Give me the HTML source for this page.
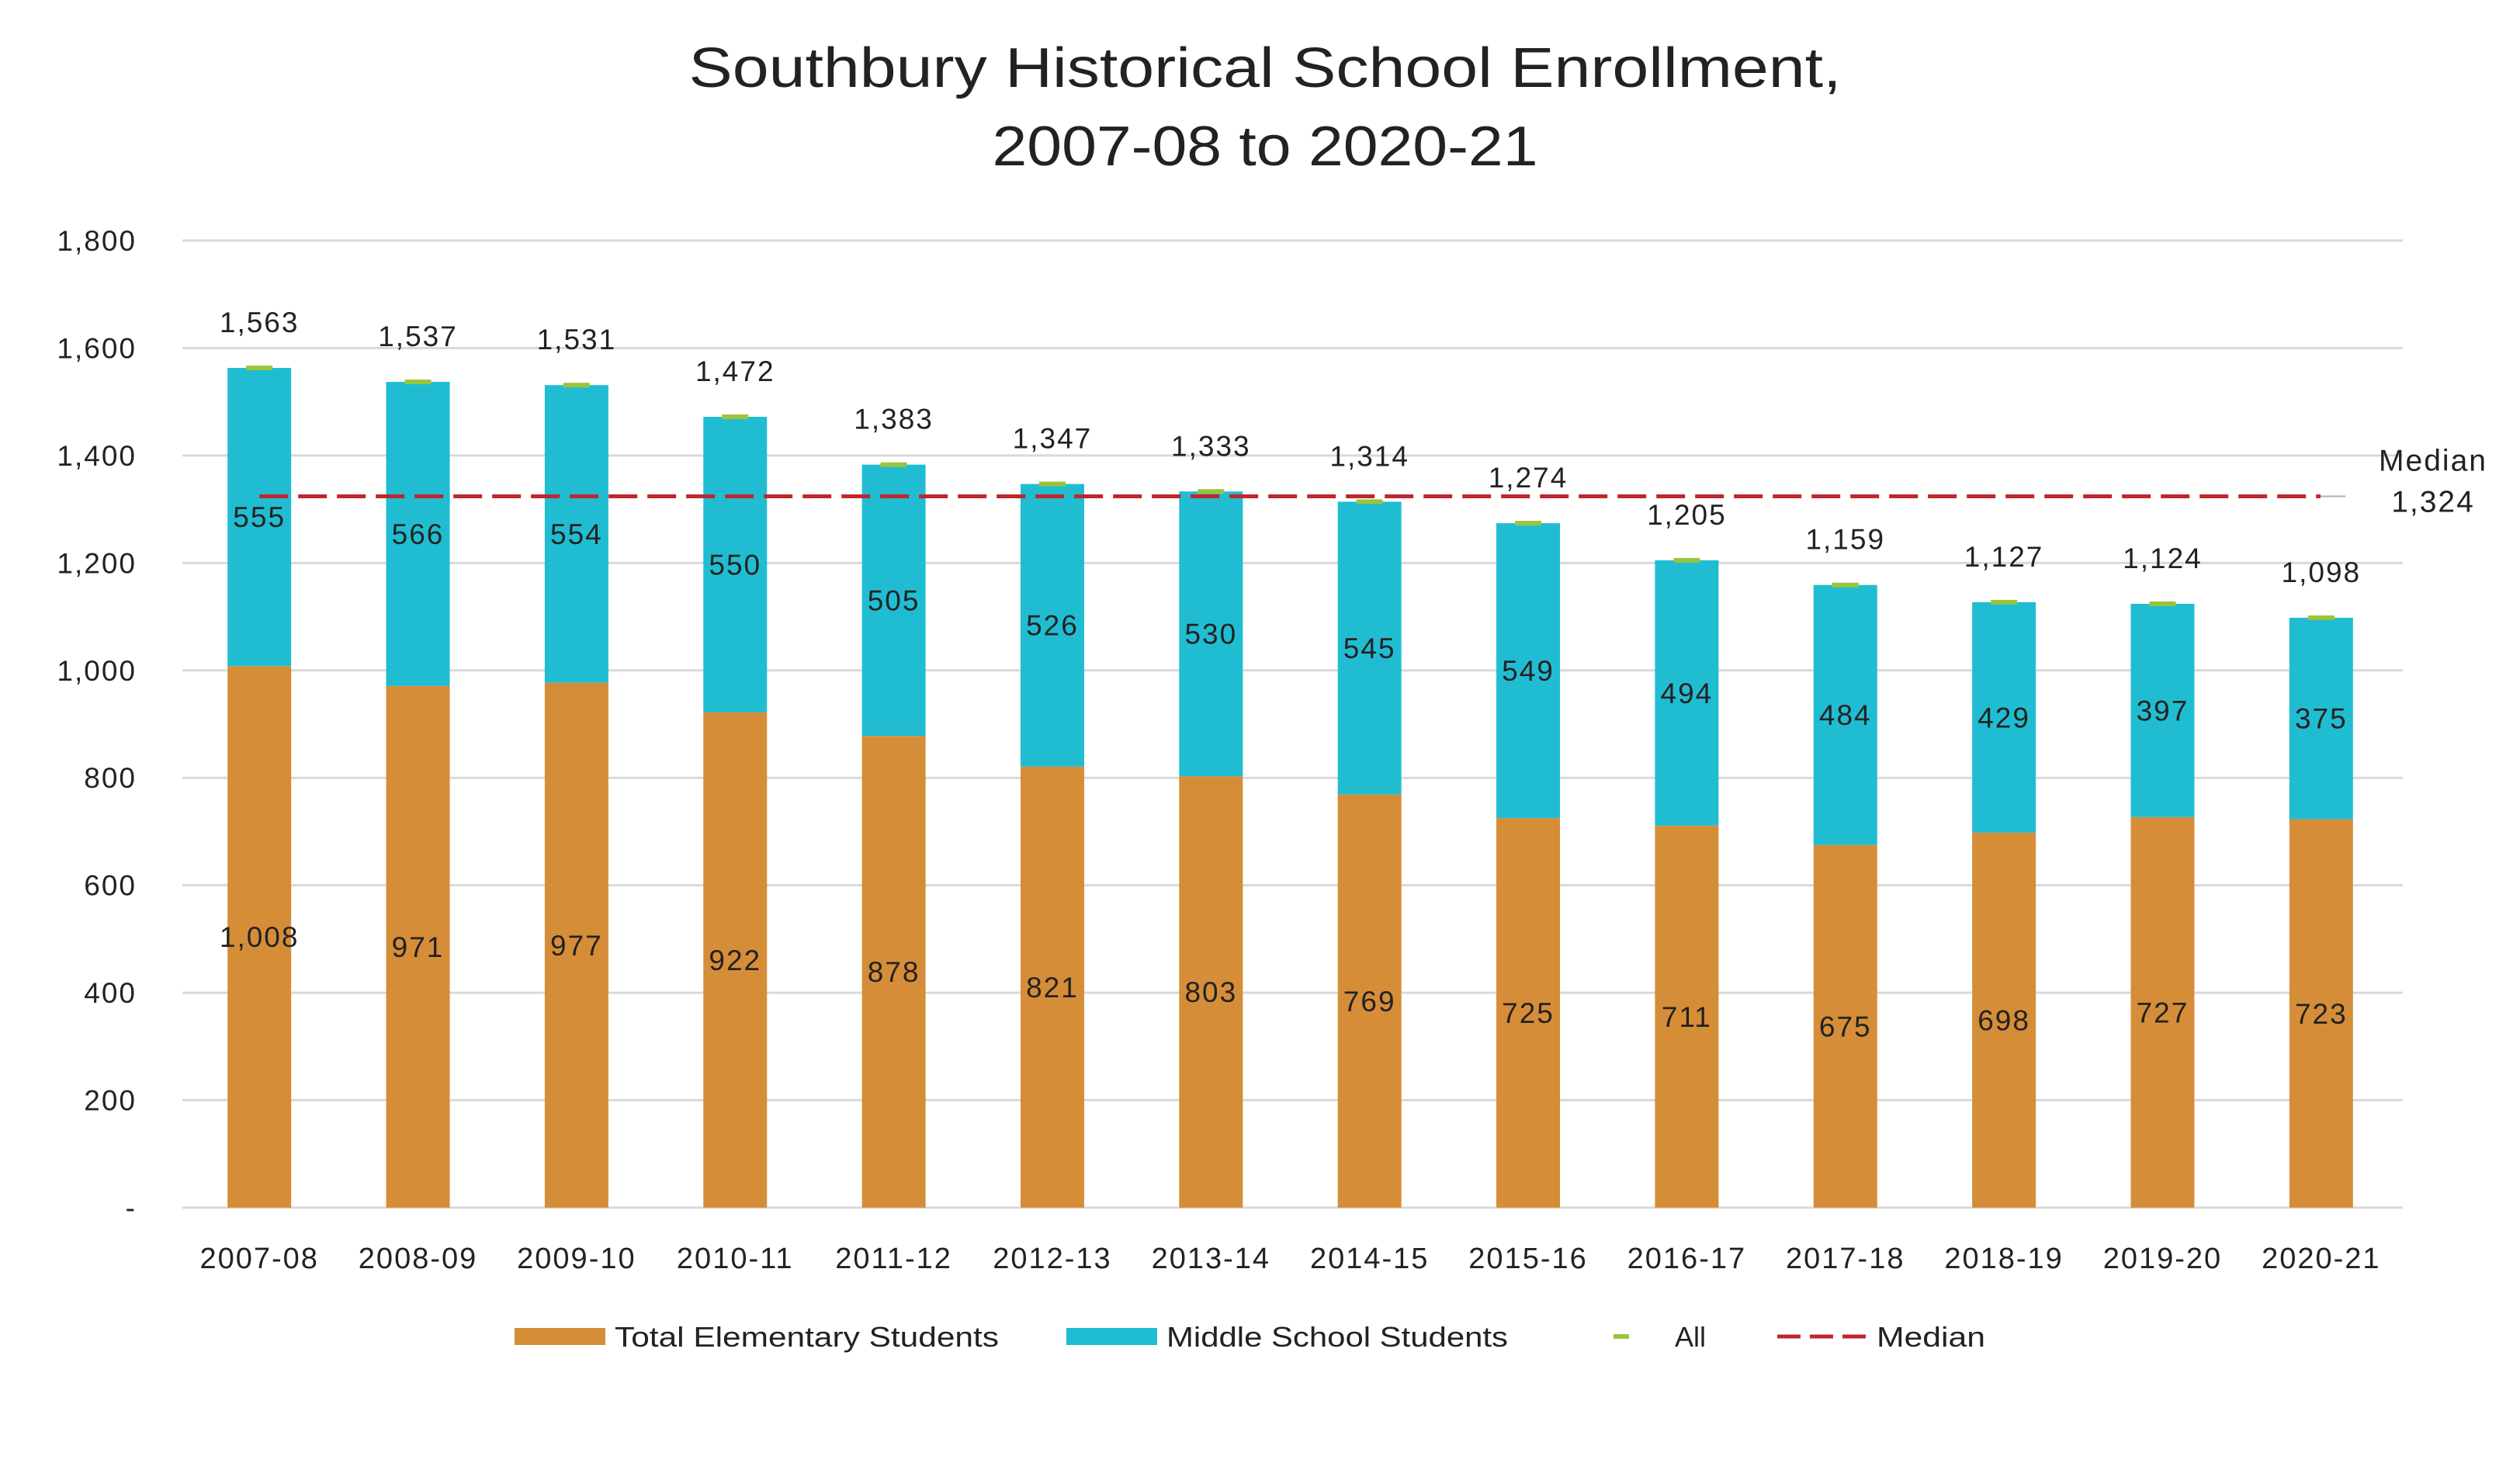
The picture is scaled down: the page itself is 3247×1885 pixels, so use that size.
<!DOCTYPE html>
<html><head><meta charset="utf-8"><style>
html,body{margin:0;padding:0;background:#fff;}
svg{display:block;font-family:"Liberation Sans",sans-serif;}
</style></head><body>
<svg id="chart" width="3247" height="1885" viewBox="0 0 3247 1885" xmlns="http://www.w3.org/2000/svg">
<text x="1630" y="112" font-size="72" text-anchor="middle" fill="#222" textLength="1485" lengthAdjust="spacingAndGlyphs">Southbury Historical School Enrollment,</text>
<text x="1630" y="213" font-size="72" text-anchor="middle" fill="#222" textLength="703" lengthAdjust="spacingAndGlyphs">2007-08 to 2020-21</text>
<g id="grid"></g><g id="bars"></g><g id="labels"></g>
<g>
<rect x="663" y="1711" width="117" height="22" fill="#d68d38"/>
<text x="792" y="1735" font-size="36" fill="#222" textLength="495" lengthAdjust="spacingAndGlyphs">Total Elementary Students</text>
<rect x="1374" y="1711" width="117" height="22" fill="#20bdd2"/>
<text x="1503" y="1735" font-size="36" fill="#222" textLength="440" lengthAdjust="spacingAndGlyphs">Middle School Students</text>
<rect x="2079" y="1719" width="20" height="6" fill="#9bc43a"/>
<text x="2158" y="1735" font-size="36" fill="#222">All</text>
<line x1="2290" y1="1722" x2="2404" y2="1722" stroke="#c0262b" stroke-width="5" stroke-dasharray="30 12"/>
<text x="2418" y="1735" font-size="36" fill="#222" textLength="140" lengthAdjust="spacingAndGlyphs">Median</text>
</g>
</svg>
<script>
const categories=["2007-08","2008-09","2009-10","2010-11","2011-12","2012-13","2013-14","2014-15","2015-16","2016-17","2017-18","2018-19","2019-20","2020-21"];
const elementary=[1008,971,977,922,878,821,803,769,725,711,675,698,727,723];
const middle=[555,566,554,550,505,526,530,545,549,494,484,429,397,375];
const totals=[1563,1537,1531,1472,1383,1347,1333,1314,1274,1205,1159,1127,1124,1098];
const median=1324;
const yTicks=[0,200,400,600,800,1000,1200,1400,1600,1800];
const yTickLabels=["-","200","400","600","800","1,000","1,200","1,400","1,600","1,800"];

const NS="http://www.w3.org/2000/svg";
const X0=235,X1=3096,Y0=1556,Y1=310,YMAX=1800;
const band=(X1-X0)/categories.length, bw=82;
function y(v){return Y0-(v/YMAX)*(Y0-Y1);}
function xc(i){return X0+band*(i+0.5)-3;}
function fmt(v){return v.toLocaleString("en-US");}
function mk(tag,attrs,parent,text){const e=document.createElementNS(NS,tag);for(const k in attrs)e.setAttribute(k,attrs[k]);if(text!==undefined)e.textContent=text;parent.appendChild(e);return e;}
const grid=document.getElementById("grid"),bars=document.getElementById("bars"),labels=document.getElementById("labels");
const LS=2;
yTicks.forEach((t,i)=>{
 const l=mk("line",{x1:X0,x2:X1,y1:y(t),y2:y(t),stroke:"#d9d9d9","stroke-width":3},grid);
 
 
 const tx=mk("text",{x:176,y:y(t)+13,"font-size":37,"text-anchor":"end",fill:"#222","letter-spacing":LS},grid,yTickLabels[i]);
 
 
});
categories.forEach((c,i)=>{
 const cx=xc(i);
 const e=mk("rect",{x:cx-bw/2,y:y(elementary[i]),width:bw,height:Y0-y(elementary[i]),fill:"#d68d38"},bars);
 
 
 const top=elementary[i]+middle[i];
 const m=mk("rect",{x:cx-bw/2,y:y(top),width:bw,height:y(elementary[i])-y(top),fill:"#20bdd2"},bars);
 
 
 const a=mk("rect",{x:cx-17,y:y(totals[i])-3,width:34,height:6,fill:"#9bc43a"},bars);
 
 
 const t1=mk("text",{x:cx,y:y(elementary[i]/2)+13,"font-size":37,"text-anchor":"middle",fill:"#222","letter-spacing":LS},labels,fmt(elementary[i]));
 
 
 const t2=mk("text",{x:cx,y:y(elementary[i]+middle[i]/2)+13,"font-size":37,"text-anchor":"middle",fill:"#222","letter-spacing":LS},labels,fmt(middle[i]));
 
 
 const t3=mk("text",{x:cx,y:y(totals[i])-46,"font-size":37,"text-anchor":"middle",fill:"#222","letter-spacing":LS},labels,fmt(totals[i]));
 
 
 const t4=mk("text",{x:cx,y:1634,"font-size":38,"text-anchor":"middle",fill:"#222","letter-spacing":LS},labels,c);
 
 
});
const my=y(median);
const ml=mk("line",{x1:xc(0),x2:2990,y1:my,y2:my,stroke:"#c0262b","stroke-width":5,"stroke-dasharray":"37 13"},labels);


const mc=mk("line",{x1:2990,x2:3022,y1:my,y2:my,stroke:"#aab0bc","stroke-width":2},labels);


const mt=mk("text",{x:3135,y:my-33,"font-size":39,"text-anchor":"middle",fill:"#222","letter-spacing":LS},labels,"Median");


const mv=mk("text",{x:3135,y:my+20,"font-size":39,"text-anchor":"middle",fill:"#222","letter-spacing":LS},labels,fmt(median));


</script>
</body></html>
